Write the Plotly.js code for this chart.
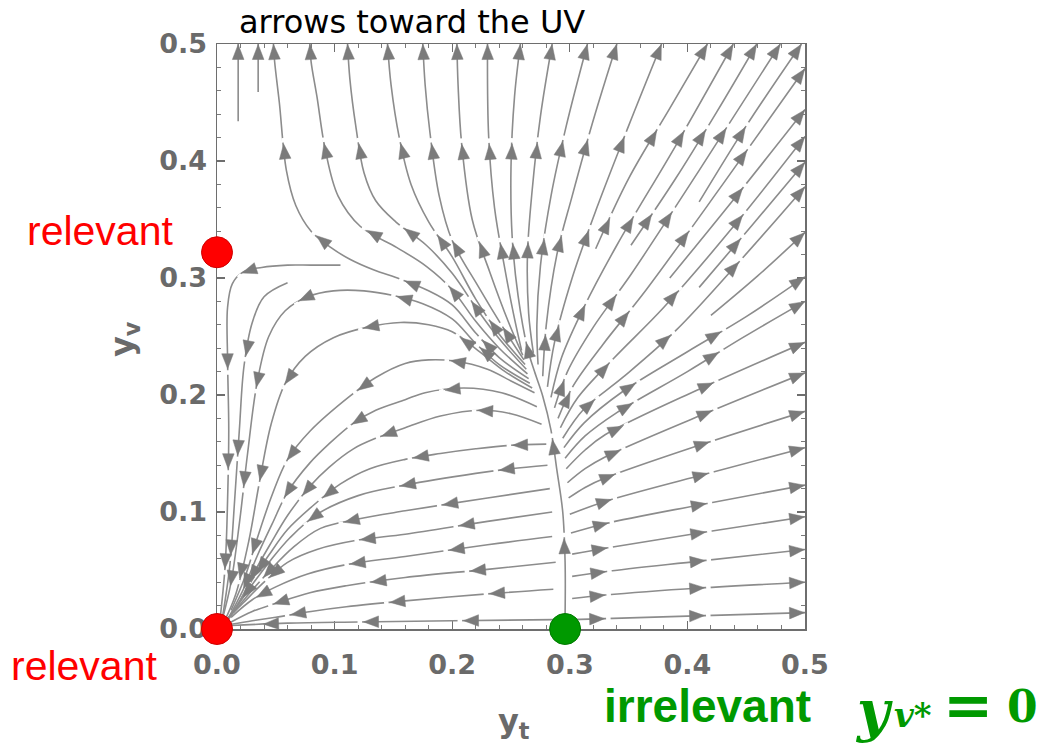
<!DOCTYPE html>
<html><head><meta charset="utf-8">
<script src="https://cdn.plot.ly/plotly-3.0.1.min.js"></script>
<style>html,body{margin:0;padding:0;background:#fff}</style>
</head><body><div id="chart" style="width:1047px;height:745px"></div>
<script>
// ---------- tick labels ----------
const tickValues = [0, 0.1, 0.2, 0.3, 0.4, 0.5];
const tickLabels = ['0.0', '0.1', '0.2', '0.3', '0.4', '0.5'];

// ---------- fixed points (yt, yv) ----------
const fixedX = [0, 0, 0.296];
const fixedY = [0, 0.322, 0];
const fixedColors = ['#ff0000', '#ff0000', '#009900'];

// ---------- streamlines, points in flow order ----------
const sepUp = [[0.296,0.012],[0.296,0.057],[0.294,0.100],[0.289,0.136],[0.284,0.170],[0.277,0.199],[0.270,0.220],[0.264,0.240],[0.256,0.285],[0.251,0.335],[0.250,0.395],[0.253,0.455],[0.258,0.5]];
const t230 = [[0.259,0.238],[0.252,0.270],[0.244,0.312],[0.236,0.360],[0.231,0.421],[0.230,0.5]];
const t204 = [[0.260,0.234],[0.248,0.262],[0.232,0.305],[0.217,0.350],[0.208,0.415],[0.205,0.465],[0.204,0.5]];
const t175 = [[0.261,0.230],[0.243,0.258],[0.222,0.293],[0.200,0.332],[0.189,0.370],[0.181,0.425],[0.177,0.465],[0.175,0.5]];
const t145 = [[0.262,0.226],[0.240,0.252],[0.220,0.282],[0.200,0.318],[0.180,0.348],[0.165,0.380],[0.155,0.420],[0.148,0.465],[0.145,0.5]];
const t111 = [[0.263,0.222],[0.240,0.248],[0.220,0.275],[0.200,0.304],[0.178,0.328],[0.152,0.348],[0.135,0.366],[0.125,0.390],[0.118,0.430],[0.113,0.470],[0.111,0.5]];
const t079 = [[0.264,0.218],[0.240,0.240],[0.220,0.263],[0.200,0.290],[0.178,0.310],[0.153,0.326],[0.122,0.344],[0.103,0.370],[0.092,0.410],[0.085,0.455],[0.080,0.485],[0.079,0.5]];
const t048 = [[0.265,0.214],[0.240,0.232],[0.220,0.253],[0.200,0.277],[0.178,0.290],[0.156,0.299],[0.133,0.307],[0.113,0.316],[0.097,0.326],[0.080,0.340],[0.067,0.362],[0.059,0.392],[0.053,0.450],[0.049,0.485],[0.048,0.5]];
const topA = [[0.018,0.434],[0.018,0.470],[0.018,0.5]];
const topB = [[0.035,0.459],[0.035,0.5]];
const sepLeft = [[0.105,0.311],[0.080,0.311],[0.060,0.311],[0.038,0.309],[0.022,0.305],[0.013,0.295],[0.009,0.275],[0.009,0.230],[0.010,0.170],[0.009,0.110],[0.007,0.055],[0.003,0.012]];
const bx = [[0.060,0.296],[0.040,0.284],[0.030,0.262],[0.023,0.225],[0.019,0.170],[0.015,0.110],[0.011,0.055],[0.005,0.012]];
const arc290 = [[0.266,0.210],[0.240,0.226],[0.220,0.244],[0.200,0.265],[0.175,0.278],[0.150,0.285],[0.125,0.289],[0.099,0.289],[0.077,0.284],[0.058,0.272],[0.044,0.250],[0.034,0.210],[0.026,0.150],[0.019,0.090],[0.012,0.040],[0.005,0.010]];
const arc262 = [[0.268,0.206],[0.245,0.220],[0.222,0.238],[0.200,0.254],[0.180,0.260],[0.156,0.262],[0.128,0.258],[0.099,0.249],[0.075,0.233],[0.058,0.210],[0.046,0.175],[0.036,0.125],[0.027,0.075],[0.016,0.030],[0.006,0.006]];
const b10 = [[0.270,0.202],[0.250,0.212],[0.230,0.222],[0.202,0.229],[0.180,0.230],[0.160,0.227],[0.135,0.215],[0.113,0.199],[0.079,0.169],[0.060,0.145],[0.047,0.115],[0.035,0.080],[0.024,0.045],[0.012,0.016]];
const b9 = [[0.272,0.190],[0.242,0.202],[0.210,0.206],[0.177,0.202],[0.160,0.196],[0.135,0.187],[0.116,0.176],[0.095,0.158],[0.079,0.142],[0.060,0.117],[0.047,0.090],[0.034,0.062],[0.022,0.033],[0.010,0.010]];
const b8 = [[0.276,0.175],[0.250,0.184],[0.224,0.187],[0.190,0.182],[0.160,0.172],[0.135,0.163],[0.116,0.154],[0.095,0.138],[0.079,0.122],[0.060,0.097],[0.045,0.072],[0.032,0.049],[0.020,0.025],[0.009,0.007]];
const b7 = [[0.280,0.158],[0.250,0.157],[0.220,0.154],[0.190,0.150],[0.160,0.145],[0.130,0.137],[0.105,0.124],[0.080,0.104],[0.060,0.085],[0.044,0.063],[0.030,0.042],[0.017,0.020],[0.007,0.005]];
const b6 = [[0.281,0.140],[0.250,0.137],[0.220,0.133],[0.160,0.123],[0.120,0.114],[0.085,0.098],[0.062,0.078],[0.045,0.058],[0.030,0.038],[0.016,0.018],[0.006,0.005]];
const b5 = [[0.283,0.120],[0.230,0.112],[0.160,0.101],[0.120,0.094],[0.088,0.086],[0.065,0.070],[0.045,0.050],[0.028,0.031],[0.014,0.014]];
const b4 = [[0.285,0.100],[0.230,0.092],[0.160,0.081],[0.120,0.076],[0.085,0.068],[0.060,0.057],[0.040,0.040],[0.022,0.022],[0.008,0.008]];
const b3 = [[0.285,0.079],[0.230,0.072],[0.160,0.062],[0.110,0.055],[0.077,0.047],[0.050,0.036],[0.030,0.025],[0.012,0.010]];
const b2 = [[0.288,0.057],[0.230,0.051],[0.160,0.044],[0.110,0.037],[0.079,0.031],[0.050,0.022],[0.030,0.015],[0.012,0.006]];
const b1 = [[0.286,0.034],[0.230,0.030],[0.160,0.024],[0.110,0.019],[0.080,0.015],[0.050,0.010],[0.030,0.007],[0.012,0.004]];
const b0 = [[0.287,0.008],[0.200,0.007],[0.120,0.006],[0.060,0.005],[0.012,0.003]];
const fanE = [[0.269,0.236],[0.265,0.270],[0.264,0.320],[0.268,0.375],[0.275,0.438],[0.285,0.5]];
const fanF = [[0.273,0.226],[0.272,0.260],[0.275,0.310],[0.284,0.370],[0.297,0.430],[0.315,0.5]];
const fanG = [[0.277,0.216],[0.280,0.260],[0.289,0.320],[0.302,0.370],[0.320,0.435],[0.340,0.5]];
const fanH = [[0.281,0.207],[0.287,0.245],[0.302,0.300],[0.323,0.360],[0.350,0.430],[0.378,0.5]];
const fanI = [[0.322,0.325],[0.350,0.385],[0.385,0.445],[0.417,0.5]];
const fanJ = [[0.284,0.198],[0.293,0.232],[0.312,0.275],[0.340,0.328],[0.390,0.413],[0.439,0.5]];
const fanK = [[0.352,0.328],[0.390,0.385],[0.425,0.442],[0.459,0.5]];
const fanL = [[0.287,0.189],[0.298,0.220],[0.320,0.258],[0.352,0.303],[0.410,0.392],[0.479,0.5]];
const fanM = [[0.410,0.365],[0.450,0.430],[0.497,0.5]];
const fanN = [[0.290,0.180],[0.303,0.208],[0.328,0.243],[0.365,0.290],[0.430,0.380],[0.5,0.479]];
const fanO = [[0.385,0.300],[0.440,0.368],[0.5,0.444]];
const fanP = [[0.292,0.172],[0.307,0.198],[0.338,0.232],[0.380,0.275],[0.440,0.345],[0.5,0.421]];
const fanQ = [[0.410,0.292],[0.455,0.345],[0.5,0.399]];
const r16 = [[0.294,0.163],[0.312,0.188],[0.345,0.215],[0.390,0.255],[0.445,0.315],[0.5,0.378]];
const r11 = [[0.420,0.268],[0.460,0.302],[0.5,0.339]];
const r10 = [[0.295,0.155],[0.312,0.176],[0.345,0.203],[0.400,0.237],[0.450,0.267],[0.5,0.301]];
const r9 = [[0.296,0.146],[0.313,0.165],[0.340,0.185],[0.400,0.220],[0.447,0.249],[0.5,0.280]];
const r8 = [[0.297,0.137],[0.313,0.153],[0.330,0.166],[0.410,0.205],[0.5,0.245]];
const r7 = [[0.298,0.125],[0.313,0.137],[0.330,0.147],[0.410,0.182],[0.5,0.219]];
const r6 = [[0.299,0.112],[0.313,0.121],[0.330,0.129],[0.410,0.157],[0.5,0.186]];
const r5 = [[0.300,0.098],[0.330,0.109],[0.410,0.131],[0.5,0.155]];
const r4 = [[0.301,0.082],[0.330,0.090],[0.410,0.106],[0.5,0.123]];
const r3 = [[0.302,0.064],[0.330,0.069],[0.410,0.082],[0.5,0.096]];
const r2 = [[0.302,0.045],[0.330,0.049],[0.410,0.058],[0.5,0.068]];
const r1 = [[0.302,0.026],[0.330,0.029],[0.410,0.035],[0.5,0.040]];
const r0 = [[0.302,0.008],[0.400,0.011],[0.5,0.014]];

const streamlines = [sepUp,t230,t204,t175,t145,t111,t079,t048,topA,topB,sepLeft,bx,arc290,arc262,
  b10,b9,b8,b7,b6,b5,b4,b3,b2,b1,b0,fanE,fanF,fanG,fanH,fanI,fanJ,fanK,fanL,fanM,fanN,fanO,fanP,fanQ,
  r16,r11,r10,r9,r8,r7,r6,r5,r4,r3,r2,r1,r0];

// ---------- geometry of the plot area ----------
const W = 1047, H = 745, ML = 217, MR = 242, MT = 44, MB = 116;
const PX = (W - ML - MR) / 0.5, PY = (H - MT - MB) / 0.5;   // px per data unit

// line trace
const lx = [], ly = [];
streamlines.forEach(s => { s.forEach(p => { lx.push(p[0]); ly.push(p[1]); }); lx.push(null); ly.push(null); });

// arrowheads placed along each streamline, with a short break in the line just past each tip
const axs = [], ays = [], gx = [], gy = [];
const SP = 100, AL = 15, AH = 5.8;
streamlines.forEach((ln, k) => {
  const p = ln.map(q => [q[0] * PX, q[1] * PY]);
  const cum = [0];
  for (let i = 1; i < p.length; i++) cum.push(cum[i-1] + Math.hypot(p[i][0]-p[i-1][0], p[i][1]-p[i-1][1]));
  const tot = cum[cum.length-1];
  const at = s => {
    s = Math.max(0, Math.min(tot, s));
    let i = 1; while (i < p.length-1 && cum[i] < s) i++;
    const d = (cum[i]-cum[i-1]) || 1, t = (s-cum[i-1]) / d;
    return [p[i-1][0] + t*(p[i][0]-p[i-1][0]), p[i-1][1] + t*(p[i][1]-p[i-1][1])];
  };
  const end = p[p.length-1];
  const toOrigin = Math.hypot(end[0], end[1]) < 35;
  let s = tot - (toOrigin ? 40 + (k % 3) * 14 : 8);
  for (; s > 18; s -= SP) {
    const c = at(s);
    const a = at(s - 9), b = at(s + 9);
    let ux = b[0]-a[0], uy = b[1]-a[1]; const n = Math.hypot(ux, uy) || 1; ux /= n; uy /= n;
    const tip = [c[0]+ux*AL/2, c[1]+uy*AL/2], bs = [c[0]-ux*AL/2, c[1]-uy*AL/2];
    const l = [bs[0]-uy*AH, bs[1]+ux*AH], r = [bs[0]+uy*AH, bs[1]-ux*AH];
    [tip, l, r, tip].forEach(q => { axs.push(q[0]/PX); ays.push(q[1]/PY); });
    axs.push(null); ays.push(null);
    if (s + AL/2 + 8 < tot && Math.hypot(c[0], c[1]) > 60) {
      const g1 = at(s + AL/2 + 1.5), g2 = at(s + AL/2 + 6);
      gx.push(g1[0]/PX, g2[0]/PX, null); gy.push(g1[1]/PY, g2[1]/PY, null);
    }
  }
});

const traces = [
  {type:'scatter', mode:'lines', x:lx, y:ly, hoverinfo:'skip', showlegend:false,
   line:{color:'#8c8c8c', width:1.6, shape:'spline', smoothing:1}},
  {type:'scatter', mode:'lines', x:gx, y:gy, hoverinfo:'skip', showlegend:false,
   line:{color:'#ffffff', width:3.2}},
  {type:'scatter', mode:'lines', x:axs, y:ays, fill:'toself', fillcolor:'#7b7b7b', hoverinfo:'skip', showlegend:false,
   line:{color:'#7b7b7b', width:0.5}},
  {type:'scatter', mode:'markers', x:fixedX, y:fixedY, cliponaxis:false, hoverinfo:'skip', showlegend:false,
   marker:{size:31, color:fixedColors, line:{width:1, color:['#d00000','#d00000','#007a00']}}}
];

const tickFont = {family:'DejaVu Sans', size:27, color:'#6a6a6a', weight:'bold'};
const axisBase = {range:[0,0.5], showgrid:false, zeroline:false, showline:true, linecolor:'#6e6e6e', linewidth:1.5,
  mirror:'allticks', ticks:'inside', ticklen:8, tickwidth:1.2, tickcolor:'#6e6e6e',
  tickmode:'array', tickvals:tickValues, ticktext:tickLabels, tickfont:tickFont, layer:'below traces',
  minor:{ticks:'inside', ticklen:4, tickwidth:1, tickcolor:'#7a7a7a', dtick:0.02, showgrid:false}, fixedrange:true};

const layout = {
  width:W, height:H, margin:{l:ML, r:MR, t:MT, b:MB, pad:0},
  paper_bgcolor:'#ffffff', plot_bgcolor:'#ffffff', showlegend:false,
  xaxis: Object.assign({}, axisBase, {ticklabelstandoff:11}),
  yaxis: Object.assign({}, axisBase, {ticklabelstandoff:3}),
  annotations:[
    {text:'arrows toward the UV', xref:'paper', yref:'paper', x:0.332, y:1.038, xanchor:'center', yanchor:'middle',
     showarrow:false, font:{family:'DejaVu Sans', size:32, color:'#000000'}},
    {text:'<b>y</b><sub><b>t</b></sub>', xref:'paper', yref:'paper', x:0.505, y:-0.16, xanchor:'center', yanchor:'middle',
     showarrow:false, font:{family:'DejaVu Sans', size:32, color:'#6a6a6a'}},
    {text:'<b>y</b><sub><b>v</b></sub>', xref:'paper', yref:'paper', x:-0.157, y:0.495, xanchor:'center', yanchor:'middle',
     textangle:-90, showarrow:false, font:{family:'DejaVu Sans', size:32, color:'#6a6a6a'}},
    {text:'relevant', xref:'paper', yref:'paper', x:-0.199, y:0.680, xanchor:'center', yanchor:'middle',
     showarrow:false, font:{family:'Liberation Sans', size:41, color:'#ff0000'}},
    {text:'relevant', xref:'paper', yref:'paper', x:-0.226, y:-0.063, xanchor:'center', yanchor:'middle',
     showarrow:false, font:{family:'Liberation Sans', size:41, color:'#ff0000'}},
    {text:'irrelevant', xref:'paper', yref:'paper', x:0.834, y:-0.131, xanchor:'center', yanchor:'middle',
     showarrow:false, font:{family:'Liberation Sans', size:46, color:'#009900', weight:'bold'}},
    {text:'<i>y</i>', xref:'paper', yref:'paper', x:(874-ML)/588, y:-0.14, xanchor:'center', yanchor:'middle',
     showarrow:false, font:{family:'DejaVu Serif', size:56, color:'#009900', weight:'bold'}},
    {text:'<i>v</i>*', xref:'paper', yref:'paper', x:(913-ML)/588, y:-0.147, xanchor:'center', yanchor:'middle',
     showarrow:false, font:{family:'DejaVu Serif', size:34, color:'#009900', weight:'bold'}},
    {text:'=', xref:'paper', yref:'paper', x:(968-ML)/588, y:-0.13, xanchor:'center', yanchor:'middle',
     showarrow:false, font:{family:'DejaVu Serif', size:60, color:'#009900', weight:'bold'}},
    {text:'0', xref:'paper', yref:'paper', x:(1022-ML)/588, y:-0.132, xanchor:'center', yanchor:'middle',
     showarrow:false, font:{family:'DejaVu Serif', size:44, color:'#009900', weight:'bold'}}
  ]
};

Plotly.newPlot('chart', traces, layout, {displayModeBar:false, staticPlot:true});
</script>
</body></html>
